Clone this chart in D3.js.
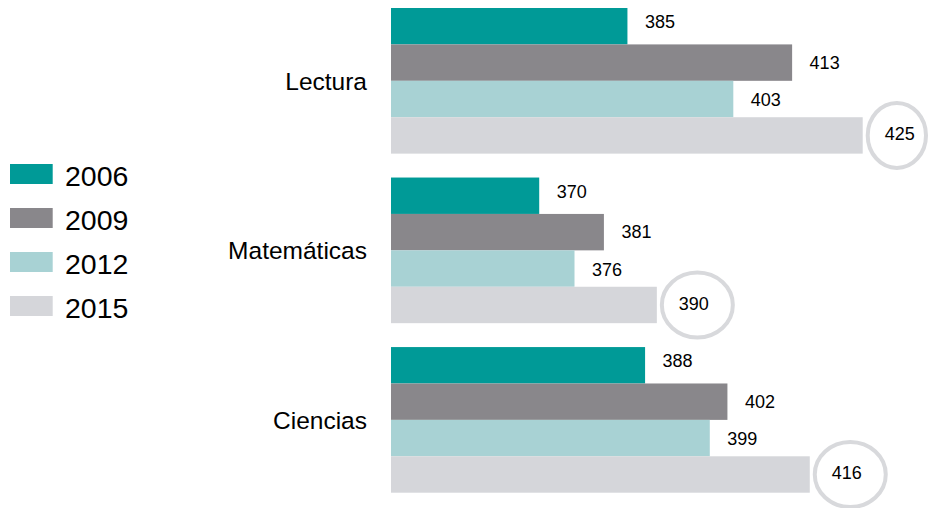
<!DOCTYPE html>
<html>
<head>
<meta charset="utf-8">
<script src="https://cdn.jsdelivr.net/npm/d3@7"></script>
<style>
  body { margin: 0; background: #fff; }
  text { font-family: "Liberation Sans", Arial, sans-serif; fill: #000; }
</style>
</head>
<body>
<div id="chart"></div>
<script>
// data
var categories = ["Lectura", "Matemáticas", "Ciencias"];
var years = ["2006", "2009", "2012", "2015"];
var values2006 = [385, 370, 388];
var values2009 = [413, 381, 402];
var values2012 = [403, 376, 399];
var values2015 = [425, 390, 416];
// the latest year gets a ring round its label
var highlightYear = "2015";

var colors = ["#009a97", "#89878b", "#a8d2d4", "#d5d6da"];

var svgWidth = 933;
var svgHeight = 508;

var series = [values2006, values2009, values2012, values2015];

// one row per category, one bar per year
var rows = categories.map(function(c, i) {
  return {
    category: c,
    bars: years.map(function(y, j) {
      return { year: y, value: series[j][i], index: j };
    })
  };
});

var svg = d3.select("#chart")
  .append("svg")
  .attr("width", svgWidth)
  .attr("height", svgHeight);

// scales
var xScale = d3.scaleLinear()
  .domain([344.8, 425])
  .range([391, 862.7]);

var yScale = d3.scaleBand()
  .domain(categories)
  .range([8, 492.7])
  .paddingInner(0.141)
  .paddingOuter(0);

var barScale = d3.scaleBand()
  .domain(years)
  .range([0, yScale.bandwidth()])
  .padding(0);

var colorScale = d3.scaleOrdinal()
  .domain(years)
  .range(colors);

// small vertical nudges for the value labels, per year
var labelDy = [2, 6, 7, 5];

var groups = svg.selectAll(".group")
  .data(rows)
  .enter()
  .append("g")
  .attr("class", "group")
  .attr("transform", d => `translate(0, ${yScale(d.category)})`);

groups.selectAll("rect")
  .data(d => d.bars)
  .enter()
  .append("rect")
  .attr("x", xScale.range()[0])
  .attr("y", d => barScale(d.year))
  .attr("width", d => xScale(d.value) - xScale.range()[0])
  .attr("height", barScale.bandwidth())
  .attr("fill", d => colorScale(d.year));

// rings round the highlighted labels
groups.selectAll("ellipse")
  .data(d => d.bars.filter(b => b.year === highlightYear))
  .enter()
  .append("ellipse")
  .each(function(d) {
    var left = xScale(d.value) + 3;
    var right = Math.min(xScale(d.value) + 78, svgWidth - 5);
    d3.select(this)
      .attr("cx", (left + right) / 2)
      .attr("cy", barScale(d.year) + barScale.bandwidth() / 2)
      .attr("rx", (right - left) / 2 - 2)
      .attr("ry", 32.5);
  })
  .attr("fill", "none")
  .attr("stroke", "#d8d9dc")
  .attr("stroke-width", 4);

// value labels
groups.selectAll(".value")
  .data(d => d.bars)
  .enter()
  .append("text")
  .attr("class", "value")
  .attr("x", d => xScale(d.value) + (d.year === highlightYear ? 22 : 17.5))
  .attr("y", d => barScale(d.year) + barScale.bandwidth() / 2 + labelDy[d.index])
  .attr("font-size", "18px")
  .text(d => d.value);

// category labels
groups.append("text")
  .attr("x", 367)
  .attr("y", yScale.bandwidth() / 2 + 9)
  .attr("text-anchor", "end")
  .attr("font-size", "24.5px")
  .text(d => d.category);

// legend
var legend = svg.selectAll(".legend")
  .data(years)
  .enter()
  .append("g")
  .attr("class", "legend")
  .attr("transform", (d, i) => `translate(10, ${164 + i * 44})`);

legend.append("rect")
  .attr("width", 42.7)
  .attr("height", 20)
  .attr("fill", d => colorScale(d));

legend.append("text")
  .attr("x", 55)
  .attr("y", 22)
  .attr("font-size", "28.5px")
  .text(d => d);
</script>
</body>
</html>
